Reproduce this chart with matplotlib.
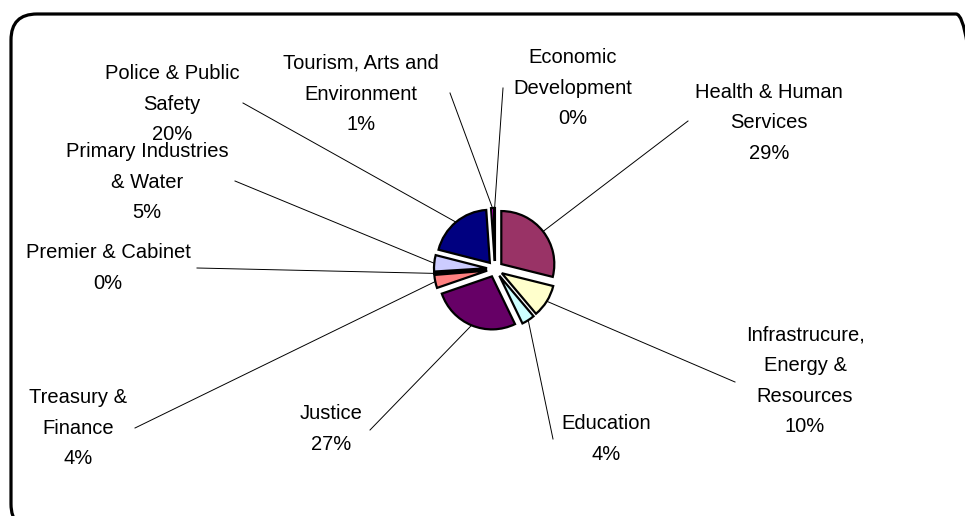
import numpy as np
import matplotlib.pyplot as plt
from matplotlib.patches import FancyBboxPatch

# Portfolio shares, clockwise from 12 o'clock
portfolios = ["Health & Human\nServices", "Infrastrucure,\nEnergy &\nResources", "Education",
              "Justice", "Treasury &\nFinance", "Premier & Cabinet", "Primary Industries\n& Water",
              "Police & Public\nSafety", "Tourism, Arts and\nEnvironment", "Economic\nDevelopment"]
shares = [29.0, 10.0, 4.0, 27.0, 4.0, 0.3, 5.0, 20.0, 0.9, 0.2]
colors = ["#993366", "#FFFFCC", "#CCFFFF", "#660066", "#FF8080",
          "#0066CC", "#CCCCFF", "#000080", "#FF00FF", "#FFFF00"]

# label centres and leader-line start points, pixels from the top-left corner
label_xy = [(769, 123), (805, 381), (606, 439), (331, 429), (78, 428),
            (108, 268), (147, 182), (172, 104), (361, 94), (573, 88)]
anchor_xy = [(688, 121), (735, 382), (553, 439), (370, 430), (135, 428),
             (197, 268), (235, 181), (243, 103), (450, 93), (503, 88)]

W, H = 965, 516
plt.rcParams['font.family'] = ['Liberation Sans', 'DejaVu Sans']

fig = plt.figure(figsize=(W / 100, H / 100), dpi=100)
ax = fig.add_axes([0, 0, 1, 1])

wedges, _ = ax.pie(shares, colors=colors, startangle=90, counterclock=False,
                   center=(495, H - 269), radius=53, explode=[8] * len(shares),
                   wedgeprops=dict(edgecolor='black', linewidth=1.6))
ax.set_xlim(0, W)
ax.set_ylim(0, H)
ax.axis('off')

total = sum(shares)
for w, name, share, (lx, ly), (axx, ayy) in zip(wedges, portfolios, shares, label_xy, anchor_xy):
    mid = np.deg2rad((w.theta1 + w.theta2) / 2)
    ex = w.center[0] + w.r * np.cos(mid)
    ey = w.center[1] + w.r * np.sin(mid)
    ax.plot([axx, ex], [H - ayy, ey], color='black', lw=0.7, zorder=0)
    ax.text(lx, H - ly, f"{name}\n{share / total * 100:.0f}%", ha='center', va='center',
            fontsize=14.5, linespacing=1.77)

# rounded chart-area border
frame = FancyBboxPatch((11, H - 530), 971, 516, boxstyle="round,pad=0,rounding_size=26",
                       fc='none', ec='black', lw=2.3)
ax.add_patch(frame)

fig.savefig("out.png", dpi=100)
